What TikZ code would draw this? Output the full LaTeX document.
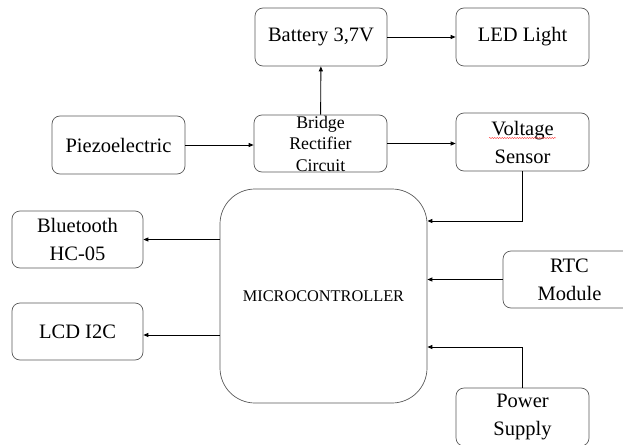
\documentclass[tikz,border=0pt]{standalone}
\usepackage{fontspec}
\setmainfont{Liberation Serif}
\usetikzlibrary{arrows.meta,calc,decorations.pathmorphing}
\tikzset{
  blk/.style={draw=black!65, line width=0.7pt, rounded corners=8pt, inner sep=0pt,
    align=center, font=\fontsize{20.5}{28}\selectfont},
  arr/.style={draw=black, line width=0.9pt, -{Triangle[length=5pt,width=4pt]}},
  ln/.style={draw=black, line width=0.9pt}
}
\begin{document}
\begin{tikzpicture}[x=1pt,y=-1pt]
\useasboundingbox (0,0) rectangle (623,444);
\clip (0,0) rectangle (623,444);
\node[blk, minimum width=132pt, minimum height=58pt] (bat) at (321,37) {Battery 3,7V};
\node[blk, minimum width=133pt, minimum height=58pt] (led) at (522.5,37) {LED Light};
\node[blk, minimum width=133pt, minimum height=58pt] (piezo) at (118.5,145) {Piezoelectric};
\node[blk, minimum width=133pt, minimum height=57pt, font=\fontsize{17.8}{21.5}\selectfont] (bridge) at (320.5,143.5) {Bridge\\Rectifier\\Circuit};
\node[blk, minimum width=133pt, minimum height=58pt] (volt) at (522.5,142) {Voltage\\Sensor};
\node[blk, rounded corners=35pt, minimum width=207pt, minimum height=214pt, font=\fontsize{16.3}{20}\selectfont] (mcu) at (323.5,296) {MICROCONTROLLER};
\node[blk, minimum width=131pt, minimum height=57pt] (bt) at (77.5,239.5) {Bluetooth\\HC-05};
\node[blk, minimum width=131pt, minimum height=57pt] (lcd) at (77.5,331.5) {LCD I2C};
\node[blk, minimum width=133pt, minimum height=57pt] (rtc) at (569.5,279.5) {RTC\\Module};
\node[blk, minimum width=133pt, minimum height=58pt] (pwr) at (522.5,417) {Power\\Supply};
% spell-check squiggle
\coordinate (sqA) at (489,138);
\coordinate (sqB) at (556,138);
\draw[red!80, line width=0.4pt, decorate, decoration={snake, amplitude=0.6pt, segment length=2.5pt}] (sqA) -- (sqB);
% connectors
\draw[arr] (bat) -- (led);
\draw[arr] (bridge) -- (bat);
\draw[arr] (piezo.east) -- (piezo.east -| bridge.west);
\draw[arr] (bridge.east) -- (bridge.east -| volt.west);
\path (mcu.east) ++(0,-75) coordinate (inV);
\draw[arr] (volt.south) |- (inV);
\draw[arr] (rtc.west) -- (rtc.west -| mcu.east);
\path (mcu.east) ++(0,51) coordinate (inP);
\draw[arr] (pwr.north) |- (inP);
\draw[arr] (mcu.west |- bt.east) -- (bt.east);
\path (lcd.east) ++(0,3.5) coordinate (lcdIn);
\draw[arr] (mcu.west |- lcdIn) -- (lcdIn);
\end{tikzpicture}
\end{document}
